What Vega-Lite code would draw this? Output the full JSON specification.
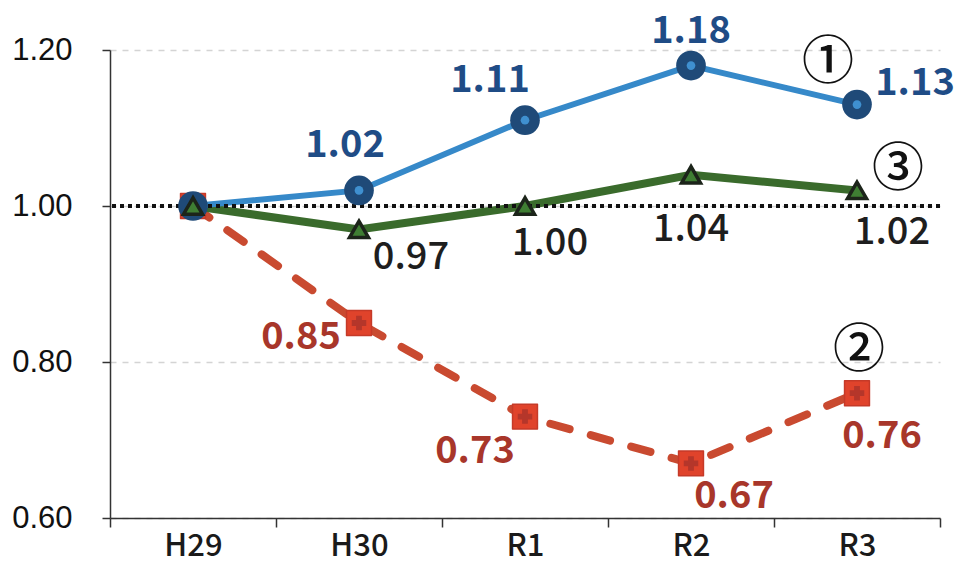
{
  "$schema": "https://vega.github.io/schema/vega-lite/v6.json",
  "width": 830,
  "height": 468,
  "autosize": {"type": "none"},
  "padding": {"left": 110, "top": 50, "right": 20, "bottom": 45},
  "background": "white",
  "config": {"view": {"stroke": null}},
  "data": {
    "values": [
      {"year": "H29", "series": "1", "value": 1.00},
      {"year": "H30", "series": "1", "value": 1.02},
      {"year": "R1", "series": "1", "value": 1.11},
      {"year": "R2", "series": "1", "value": 1.18},
      {"year": "R3", "series": "1", "value": 1.13, "note": "①"},
      {"year": "H29", "series": "2", "value": 1.00},
      {"year": "H30", "series": "2", "value": 0.85},
      {"year": "R1", "series": "2", "value": 0.73},
      {"year": "R2", "series": "2", "value": 0.67},
      {"year": "R3", "series": "2", "value": 0.76, "note": "②"},
      {"year": "H29", "series": "3", "value": 1.00},
      {"year": "H30", "series": "3", "value": 0.97},
      {"year": "R1", "series": "3", "value": 1.00},
      {"year": "R2", "series": "3", "value": 1.04},
      {"year": "R3", "series": "3", "value": 1.02, "note": "③"}
    ]
  },
  "transform": [{"calculate": "format(datum.value, '.2f')", "as": "label"}],
  "encoding": {
    "x": {
      "field": "year",
      "type": "ordinal",
      "sort": ["H29", "H30", "R1", "R2", "R3"],
      "bandPosition": 0.5,
      "scale": {"type": "band", "paddingInner": 0, "paddingOuter": 0},
      "axis": {
        "title": null,
        "labelAngle": 0,
        "tickBand": "extent",
        "labelFont": "Noto Sans CJK JP",
        "labelFontSize": 31,
        "labelFontWeight": 500,
        "labelColor": "#1a1a1a",
        "labelPadding": 4,
        "tickSize": 9,
        "tickColor": "#333333",
        "tickWidth": 1.5,
        "domainColor": "#333333",
        "domainWidth": 1.5,
        "grid": false
      }
    },
    "y": {
      "field": "value",
      "type": "quantitative",
      "scale": {"domain": [0.6, 1.2], "nice": false, "zero": false},
      "axis": {
        "title": null,
        "values": [0.6, 0.8, 1.0, 1.2],
        "format": ".2f",
        "labelFont": "Liberation Sans",
        "labelFontSize": 31,
        "labelColor": "#111111",
        "labelPadding": 30,
        "tickSize": 8,
        "tickColor": "#333333",
        "tickWidth": 1.5,
        "domainColor": "#333333",
        "domainWidth": 1.5,
        "grid": true,
        "gridColor": "#d4d4d4",
        "gridDash": [6, 6],
        "gridWidth": 1.5
      }
    }
  },
  "layer": [
    {
      "transform": [{"filter": "datum.series == '2'"}],
      "mark": {"type": "line", "color": "#c94a30", "strokeWidth": 8, "strokeDash": [20, 22], "strokeCap": "round"}
    },
    {
      "transform": [{"filter": "datum.series == '3'"}],
      "mark": {"type": "line", "color": "#3a6b2c", "strokeWidth": 8}
    },
    {
      "transform": [{"filter": "datum.series == '1'"}],
      "mark": {"type": "line", "color": "#3689c9", "strokeWidth": 6}
    },
    {
      "mark": {"type": "rule", "color": "#111111", "strokeWidth": 4, "strokeDash": [4, 4]},
      "encoding": {"x": null, "y": {"datum": 1.0}}
    },
    {
      "transform": [{"filter": "datum.series == '2'"}],
      "mark": {"type": "point", "shape": "square", "filled": true, "size": 620, "color": "#e0432b", "stroke": "#c53a28", "strokeWidth": 1.5, "strokeJoin": "round", "opacity": 1}
    },
    {
      "transform": [{"filter": "datum.series == '2'"}],
      "mark": {"type": "point", "shape": "cross", "filled": true, "size": 210, "color": "#b5362a", "opacity": 1}
    },
    {
      "transform": [{"filter": "datum.series == '1'"}],
      "mark": {"type": "point", "shape": "circle", "filled": true, "size": 880, "color": "#1f4a78", "opacity": 1}
    },
    {
      "transform": [{"filter": "datum.series == '1'"}],
      "mark": {"type": "point", "shape": "circle", "filled": true, "size": 75, "color": "#3f90d0", "opacity": 1}
    },
    {
      "transform": [{"filter": "datum.series == '3'"}],
      "mark": {"type": "point", "shape": "triangle-up", "filled": true, "size": 360, "color": "#3f7e33", "stroke": "#1c241a", "strokeWidth": 3.5, "opacity": 1}
    },
    {
      "transform": [{"filter": "datum.series == '1' && datum.year == 'H30'"}],
      "mark": {"type": "text", "font": "Noto Sans CJK JP", "fontSize": 38, "fontWeight": "bold", "color": "#1f4c86", "dx": -14, "dy": -44},
      "encoding": {"text": {"field": "label"}}
    },
    {
      "transform": [{"filter": "datum.series == '1' && datum.year == 'R1'"}],
      "mark": {"type": "text", "font": "Noto Sans CJK JP", "fontSize": 38, "fontWeight": "bold", "color": "#1f4c86", "dx": -35, "dy": -39},
      "encoding": {"text": {"field": "label"}}
    },
    {
      "transform": [{"filter": "datum.series == '1' && datum.year == 'R2'"}],
      "mark": {"type": "text", "font": "Noto Sans CJK JP", "fontSize": 38, "fontWeight": "bold", "color": "#1f4c86", "dx": 0, "dy": -34},
      "encoding": {"text": {"field": "label"}}
    },
    {
      "transform": [{"filter": "datum.series == '1' && datum.year == 'R3'"}],
      "mark": {"type": "text", "font": "Noto Sans CJK JP", "fontSize": 38, "fontWeight": "bold", "color": "#1f4c86", "dx": 58, "dy": -21},
      "encoding": {"text": {"field": "label"}}
    },
    {
      "transform": [{"filter": "datum.series == '2' && datum.year == 'H30'"}],
      "mark": {"type": "text", "font": "Noto Sans CJK JP", "fontSize": 38, "fontWeight": "bold", "color": "#a8362a", "dx": -58, "dy": 15},
      "encoding": {"text": {"field": "label"}}
    },
    {
      "transform": [{"filter": "datum.series == '2' && datum.year == 'R1'"}],
      "mark": {"type": "text", "font": "Noto Sans CJK JP", "fontSize": 38, "fontWeight": "bold", "color": "#a8362a", "dx": -50, "dy": 35},
      "encoding": {"text": {"field": "label"}}
    },
    {
      "transform": [{"filter": "datum.series == '2' && datum.year == 'R2'"}],
      "mark": {"type": "text", "font": "Noto Sans CJK JP", "fontSize": 38, "fontWeight": "bold", "color": "#a8362a", "dx": 43, "dy": 34},
      "encoding": {"text": {"field": "label"}}
    },
    {
      "transform": [{"filter": "datum.series == '2' && datum.year == 'R3'"}],
      "mark": {"type": "text", "font": "Noto Sans CJK JP", "fontSize": 38, "fontWeight": "bold", "color": "#a8362a", "dx": 25, "dy": 44},
      "encoding": {"text": {"field": "label"}}
    },
    {
      "transform": [{"filter": "datum.series == '3' && datum.year == 'H30'"}],
      "mark": {"type": "text", "font": "Noto Sans CJK JP", "fontSize": 38, "fontWeight": 500, "color": "#1e1e1e", "dx": 52, "dy": 29},
      "encoding": {"text": {"field": "label"}}
    },
    {
      "transform": [{"filter": "datum.series == '3' && datum.year == 'R1'"}],
      "mark": {"type": "text", "font": "Noto Sans CJK JP", "fontSize": 38, "fontWeight": 500, "color": "#1e1e1e", "dx": 25, "dy": 38},
      "encoding": {"text": {"field": "label"}}
    },
    {
      "transform": [{"filter": "datum.series == '3' && datum.year == 'R2'"}],
      "mark": {"type": "text", "font": "Noto Sans CJK JP", "fontSize": 38, "fontWeight": 500, "color": "#1e1e1e", "dx": 0, "dy": 55},
      "encoding": {"text": {"field": "label"}}
    },
    {
      "transform": [{"filter": "datum.series == '3' && datum.year == 'R3'"}],
      "mark": {"type": "text", "font": "Noto Sans CJK JP", "fontSize": 38, "fontWeight": 500, "color": "#1e1e1e", "dx": 35, "dy": 43},
      "encoding": {"text": {"field": "label"}}
    },
    {
      "transform": [{"filter": "datum.series == '1' && isValid(datum.note)"}],
      "mark": {"type": "text", "font": "Noto Sans CJK JP", "fontSize": 52, "fontWeight": 500, "color": "#111111", "dx": -29, "dy": -42},
      "encoding": {"text": {"field": "note"}}
    },
    {
      "transform": [{"filter": "datum.series == '2' && isValid(datum.note)"}],
      "mark": {"type": "text", "font": "Noto Sans CJK JP", "fontSize": 52, "fontWeight": 500, "color": "#111111", "dx": 2, "dy": -42},
      "encoding": {"text": {"field": "note"}}
    },
    {
      "transform": [{"filter": "datum.series == '3' && isValid(datum.note)"}],
      "mark": {"type": "text", "font": "Noto Sans CJK JP", "fontSize": 52, "fontWeight": 500, "color": "#111111", "dx": 41, "dy": -20},
      "encoding": {"text": {"field": "note"}}
    }
  ]
}
